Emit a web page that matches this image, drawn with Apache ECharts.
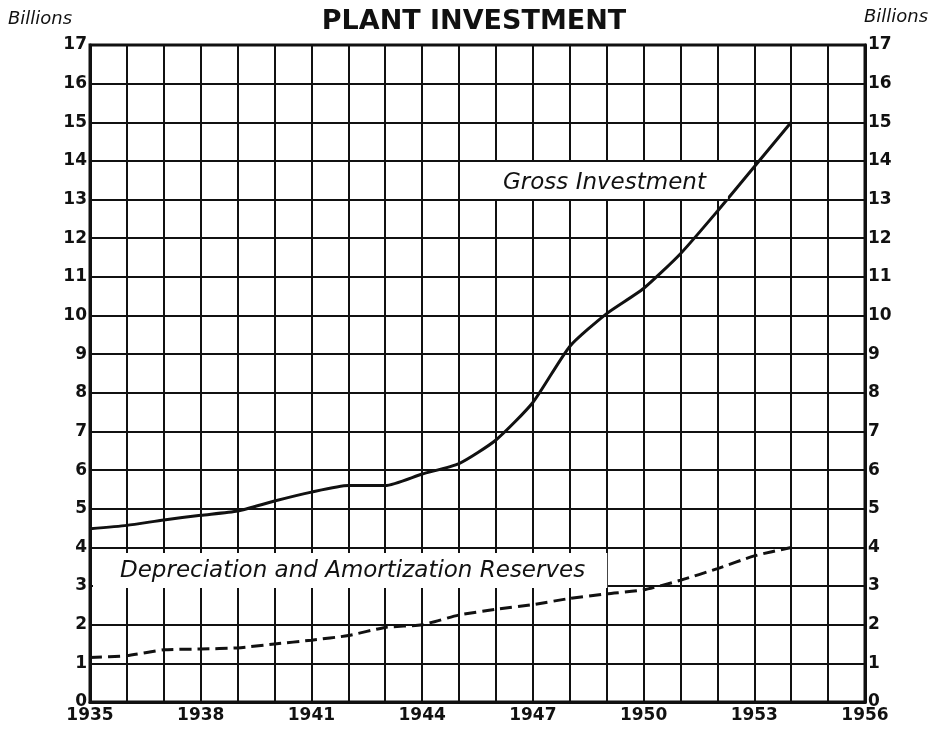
<!DOCTYPE html>
<html>
<head>
<meta charset="utf-8">
<script src="https://cdn.jsdelivr.net/npm/echarts@6/dist/echarts.min.js"></script>
<style>
  html, body { margin: 0; padding: 0; background: #fff; }
  #main { width: 948px; height: 729px; }
</style>
</head>
<body>
<div id="main"></div>
<script>
// years on the x axis
var years = [1935, 1936, 1937, 1938, 1939, 1940, 1941, 1942, 1943, 1944,
             1945, 1946, 1947, 1948, 1949, 1950, 1951, 1952, 1953, 1954];
// billions of dollars
var grossInvestment = [4.48, 4.57, 4.71, 4.83, 4.94, 5.2, 5.43, 5.6, 5.6, 5.9,
                       6.17, 6.78, 7.75, 9.2, 10.05, 10.7, 11.6, 12.7, 13.85, 15.0];
var depreciation = [1.15, 1.2, 1.35, 1.37, 1.4, 1.5, 1.6, 1.72, 1.93, 2.0,
                    2.25, 2.4, 2.52, 2.68, 2.8, 2.9, 3.15, 3.45, 3.78, 4.0];

var ink = '#111';
var fontFam = '"DejaVu Sans", sans-serif';

function pairs(ys) {
    var d = [];
    for (var i = 0; i < years.length; i++) d.push([years[i], ys[i]]);
    return d;
}

var myChart = echarts.init(document.getElementById('main'));

var yAxisCommon = {
    type: 'value',
    min: 0,
    max: 17,
    interval: 1,
    axisLine: { show: true, lineStyle: { color: ink, width: 3 } },
    axisTick: { show: false },
    splitLine: { show: true, lineStyle: { color: ink, width: 2 } },
    axisLabel: { color: ink, fontSize: 17, fontFamily: fontFam, fontWeight: 'bold', margin: 3 }
};

option = {
    backgroundColor: '#fff',
    animation: false,
    title: {
        text: 'PLANT INVESTMENT',
        left: 'center',
        top: 3,
        textStyle: { color: ink, fontSize: 27, fontWeight: 'bold', fontFamily: fontFam }
    },
    grid: {
        left: 90,
        right: 83,
        top: 45,
        bottom: 27,
        show: true,
        borderColor: ink,
        borderWidth: 3,
        containLabel: false
    },
    xAxis: {
        type: 'value',
        min: 1935,
        max: 1956,
        interval: 1,
        axisLine: { show: true, onZero: false, lineStyle: { color: ink, width: 3 } },
        axisTick: { show: false },
        splitLine: { show: true, lineStyle: { color: ink, width: 2 } },
        axisLabel: {
            color: ink, fontSize: 17, fontFamily: fontFam, fontWeight: 'bold', margin: 5,
            formatter: function (v) { return (v - 1935) % 3 === 0 ? String(v) : ''; }
        }
    },
    yAxis: [
        yAxisCommon,
        echarts.util.merge({ position: 'right' }, yAxisCommon, false)
    ],
    graphic: [
        { type: 'text', left: 8, top: 10,
          style: { text: 'Billions', fill: ink, font: 'italic 18px ' + fontFam } },
        { type: 'text', left: 864, top: 8,
          style: { text: 'Billions', fill: ink, font: 'italic 18px ' + fontFam } },
        { type: 'text', left: 487, top: 162, z: 10,
          style: { text: 'Gross Investment', fill: ink, font: 'italic 23px ' + fontFam,
                   backgroundColor: '#fff', padding: [10, 22, 4, 16] } },
        { type: 'text', left: 93, top: 553, z: 10,
          style: { text: 'Depreciation and Amortization Reserves', fill: ink,
                   font: 'italic 23px ' + fontFam,
                   backgroundColor: '#fff', padding: [7, 22, 5, 27] } }
    ],
    series: [
        {
            name: 'Gross Investment',
            type: 'line',
            data: pairs(grossInvestment),
            symbol: 'none',
            smooth: 0.2,
            z: 5,
            lineStyle: { color: ink, width: 3 }
        },
        {
            name: 'Depreciation and Amortization Reserves',
            type: 'line',
            data: pairs(depreciation),
            symbol: 'none',
            smooth: 0.2,
            z: 5,
            lineStyle: { color: ink, width: 3, type: [12, 6] }
        }
    ]
};

myChart.setOption(option);
</script>
</body>
</html>
